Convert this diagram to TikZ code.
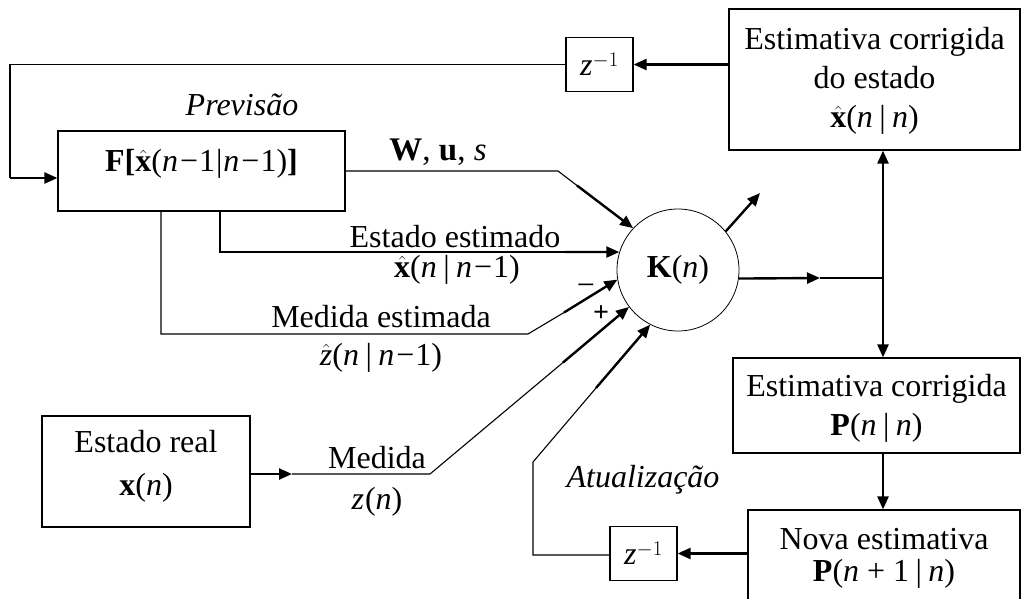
\documentclass[tikz,border=0pt]{standalone}
\usepackage{fontspec}
\setmainfont{Liberation Serif}
\usetikzlibrary{arrows.meta}
\newcommand\nv{\textit{n}}
\newcommand\xh{\ensuremath{\hat{\textbf{x}}}}
\newcommand\zh{\ensuremath{\hat{\textit{z}}}}
\newcommand\vbar{\hspace{0.2em}|\hspace{0.2em}}
\newcommand\boxlines[2]{\raisebox{#1}[\height][\depth]{\begin{tabular}{@{}c@{}}#2\end{tabular}}}
\begin{document}
\begin{tikzpicture}[x=1pt,y=-1pt,
  txt/.style={font=\fontsize{32}{39}\selectfont, inner sep=0pt, align=center},
  box/.style={txt, draw, line width=1.2pt},
  zbox/.style={box, minimum width=67pt, minimum height=54pt},
  thinline/.style={line width=1.1pt},
  thickarrow/.style={line width=2.4pt, -{Triangle[length=13pt,width=11pt]}},
  ]
\clip (0,0) rectangle (1022,598);
\fill[white] (0,0) rectangle (1022,598);
% boxes
\node[box, minimum width=291pt, minimum height=141pt] (est) at (874.5,79.5)
  {\boxlines{-1pt}{Estimativa corrigida\\do estado\\\xh(\nv\vbar\nv)}};
\node[zbox] (ztop) at (599.5,64.5) {\textit{z}$^{-1}$};
\node[box, minimum width=287pt, minimum height=80pt] (F) at (201.5,171)
  {\raisebox{7pt}[\height][\depth]{\textbf{F}\textbf{[}\xh(\nv\kern2pt−\kern1pt1\kern1pt|\kern1pt\nv\kern2pt−\kern1pt1)\textbf{]}}};
\node[draw, circle, line width=0.8pt, minimum size=122pt, inner sep=0pt, txt] (K) at (678,270) {\textbf{K}(\nv)};
\node[box, minimum width=208pt, minimum height=111pt] (real) at (146,471.5)
  {\boxlines{5pt}{Estado real\\[4pt]\textbf{x}(\nv)}};
\node[box, minimum width=287pt, minimum height=95pt] (Pnn) at (876.5,405.5)
  {\boxlines{-3pt}{Estimativa corrigida\\\textbf{P}(\nv\vbar\nv)}};
\node[box, minimum width=272pt, minimum height=100pt] (Nova) at (884,560)
  {\boxlines{2pt}{Nova estimativa\\[-7pt]\textbf{P}(\nv{} + 1\vbar\nv)}};
\node[zbox] (zbot) at (643.5,553.5) {\textit{z}$^{-1}$};
% labels
\node[txt] (prev) at (242,105) {\textit{Previsão}};
\node[txt] (atu) at (643,480) {\textit{Atualização}};
\node[txt, font=\fontsize{33}{37}\selectfont] (wus) at (438,152) {\textbf{W}, \textbf{u}, \textit{s}};
\node[txt] (ee) at (455,237) {Estado estimado};
\node[txt] (eex) at (457,270) {\xh(\nv\vbar\nv\kern2pt−\kern1pt1)};
\node[txt] (me) at (381,317) {Medida estimada};
\node[txt] (mez) at (381,358) {\zh(\nv\vbar\nv\kern2pt−\kern1pt1)};
\node[txt] (med) at (377,458) {Medida};
\node[txt] (medz) at (377,502) {\textit{z}\kern1pt(\nv)};
\node[txt] (minus) at (586,290) {−};
\node[txt, font=\fontsize{28}{30}\selectfont\bfseries] (plus) at (601,314) {+};
% coordinates
\coordinate (tl) at (10,64.5);
\coordinate (bl) at (10,178);
\coordinate (w1) at (558,171);
\coordinate (w2) at (577,185.5);
\coordinate (e1) at (220,252);
\coordinate (e2) at (565,252);
\coordinate (m1) at (161,334);
\coordinate (m2) at (528,334);
\coordinate (m3) at (564,312.5);
\coordinate (r1) at (292,474);
\coordinate (r2) at (430,474);
\coordinate (r3) at (563,362.5);
\coordinate (u1) at (533,555);
\coordinate (u2) at (533,462);
\coordinate (u3) at (596,388);
\coordinate (o1) at (760,193);
\coordinate (o2) at (820,278);
\coordinate (j) at (883,278);
% connectors
\draw[thickarrow] (ztop.east -| est.west) -- (ztop.east);
\draw[thinline] (ztop.west) -- (tl) -- (bl);
\draw[thickarrow] (bl) -- (F.west |- bl);
\draw[thinline] (F.east |- w1) -- (w1) -- (w2);
\draw[thickarrow] (w2) -- (K.137);
\draw[thinline] (F.south -| e1) -- (e1) -- (e2);
\draw[thickarrow] (e2) -- (K.163);
\draw[thinline] (F.south -| m1) -- (m1) -- (m2) -- (m3);
\draw[thickarrow] (m3) -- (K.189);
\draw[thickarrow] (real.east |- r1) -- (r1);
\draw[thinline] (r1) -- (r2) -- (r3);
\draw[thickarrow] (r3) -- (K.217);
\draw[thickarrow] (zbot.east -| Nova.west) -- (zbot.east);
\draw[thinline] (zbot.west |- u1) -- (u1) -- (u2) -- (u3);
\draw[thickarrow] (u3) -- (K.243);
\draw[thickarrow] (K.39) -- (o1);
\draw[thickarrow] (K.352.5) -- (o2);
\draw[thinline] (o2) -- (j);
\draw[thickarrow] (j) -- (est.south -| j);
\draw[thickarrow] (j) -- (Pnn.north -| j);
\draw[thickarrow] (Pnn.south -| j) -- (Nova.north -| j);
\end{tikzpicture}
\end{document}
